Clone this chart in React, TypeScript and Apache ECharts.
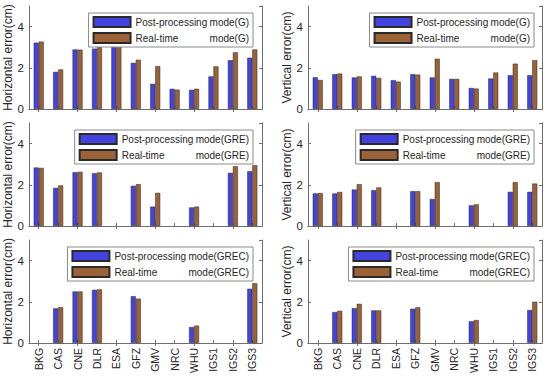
import React, { useEffect, useRef } from "react";
import * as echarts from "echarts";

const categories = ["BKG", "CAS", "CNE", "DLR", "ESA", "GFZ", "GMV", "NRC", "WHU", "IGS1", "IGS2", "IGS3"];

const hG_post = [3.22, 1.80, 2.89, 2.93, 3.07, 2.24, 1.22, 0.98, 0.93, 1.58, 2.37, 2.49];
const hG_rt = [3.27, 1.92, 2.88, 3.01, 3.14, 2.39, 2.08, 0.94, 0.98, 2.07, 2.75, 2.89];
const vG_post = [1.54, 1.69, 1.53, 1.61, 1.40, 1.69, 1.53, 1.46, 1.02, 1.48, 1.64, 1.64];
const vG_rt = [1.41, 1.72, 1.58, 1.51, 1.33, 1.67, 2.44, 1.46, 0.99, 1.77, 2.20, 2.37];
const hGRE_post = [2.84, 1.85, 2.61, 2.56, null, 1.95, 0.94, null, 0.90, null, 2.58, 2.66];
const hGRE_rt = [2.82, 1.97, 2.63, 2.60, null, 2.03, 1.61, null, 0.94, null, 2.90, 2.95];
const vGRE_post = [1.58, 1.58, 1.77, 1.74, null, 1.69, 1.31, null, 1.00, null, 1.66, 1.66];
const vGRE_rt = [1.60, 1.65, 2.03, 1.87, null, 1.69, 2.13, null, 1.05, null, 2.13, 2.06];
const hGREC_post = [null, 1.68, 2.50, 2.58, null, 2.27, null, null, 0.77, null, null, 2.63];
const hGREC_rt = [null, 1.74, 2.50, 2.60, null, 2.15, null, null, 0.84, null, null, 2.90];
const vGREC_post = [null, 1.50, 1.69, 1.58, null, 1.66, null, null, 1.05, null, null, 1.60];
const vGREC_rt = [null, 1.56, 1.90, 1.58, null, 1.73, null, null, 1.11, null, null, 2.00];

const yTicks = [0, 2, 4];
const modes = ["G", "GRE", "GREC"];
const yNames = ["Horizontal error(cm)", "Vertical error(cm)"];

const panels = [
  { mode: 0, col: 0, post: hG_post, rt: hG_rt },
  { mode: 0, col: 1, post: vG_post, rt: vG_rt },
  { mode: 1, col: 0, post: hGRE_post, rt: hGRE_rt },
  { mode: 1, col: 1, post: vGRE_post, rt: vGRE_rt },
  { mode: 2, col: 0, post: hGREC_post, rt: hGREC_rt },
  { mode: 2, col: 1, post: vGREC_post, rt: vGREC_rt },
];

const FONT = "Liberation Sans, Arial, sans-serif";
const TXT = "#262626";
const AXC = "#6e6e6e";
const BLUE = "#4343df";
const BROWN = "#9a6236";

const colLeft = [29, 308];
const colWidth = [233, 234];
const rowTop = [6, 123, 240];
const gridH = 103;
const legendRight = [297, 16];

export default function App() {
  const ref = useRef<HTMLDivElement>(null);
  useEffect(() => {
    document.body.style.margin = "0";
    const chart = echarts.init(ref.current!, null, { renderer: "svg" });
    const grid: any[] = [];
    const xAxis: any[] = [];
    const yAxis: any[] = [];
    const series: any[] = [];
    const legend: any[] = [];
    panels.forEach((p, i) => {
      const m = modes[p.mode];
      const postName = `Post-processing mode(${m})`;
      const rtName = `Real-time mode(${m})`;
      grid.push({ left: colLeft[p.col], width: colWidth[p.col], top: rowTop[p.mode], height: gridH });
      const isBottom = p.mode === 2;
      xAxis.push({
        type: "category", gridIndex: i, data: categories, position: "bottom",
        axisLine: { show: true, lineStyle: { color: AXC, width: 1 } },
        axisTick: { show: true, inside: true, length: 3, alignWithLabel: true, lineStyle: { color: AXC } },
        axisLabel: { show: isBottom, rotate: 90, margin: 5, fontSize: 10.5, fontFamily: FONT, color: TXT, interval: 0 },
      });
      xAxis.push({
        type: "category", gridIndex: i, data: categories, position: "top",
        axisLine: { show: true, lineStyle: { color: AXC, width: 1 } },
        axisTick: { show: true, inside: true, length: 3, alignWithLabel: true, lineStyle: { color: AXC } },
        axisLabel: { show: false },
      });
      yAxis.push({
        type: "value", gridIndex: i, min: 0, max: 5, interval: 2, position: "left",
        name: yNames[p.col], nameLocation: "middle", nameGap: 14,
        nameTextStyle: { fontSize: 12, fontFamily: FONT, color: TXT },
        axisLine: { show: true, lineStyle: { color: AXC, width: 1 } },
        axisTick: { show: true, inside: true, length: 3, lineStyle: { color: AXC } },
        axisLabel: {
          margin: 5, fontSize: 11.5, fontFamily: FONT, color: TXT, showMaxLabel: false,
          formatter: (v: number) => (yTicks.includes(v) ? String(v) : ""),
        },
        splitLine: { show: false },
      });
      yAxis.push({
        type: "value", gridIndex: i, min: 0, max: 5, interval: 2, position: "right",
        axisLine: { show: true, lineStyle: { color: AXC, width: 1 } },
        axisTick: { show: true, inside: true, length: 3, lineStyle: { color: AXC } },
        axisLabel: { show: false },
        splitLine: { show: false },
      });
      series.push({
        type: "bar", name: postName, xAxisIndex: 2 * i, yAxisIndex: 2 * i, data: p.post,
        barWidth: 5, barGap: "0%",
        itemStyle: { color: BLUE, borderColor: "#2a2a2a", borderWidth: 0.5 },
      });
      series.push({
        type: "bar", name: rtName, xAxisIndex: 2 * i, yAxisIndex: 2 * i, data: p.rt,
        barWidth: 5, barGap: "0%",
        itemStyle: { color: BROWN, borderColor: "#2a2a2a", borderWidth: 0.5 },
      });
      legend.push({
        data: [postName, rtName], orient: "vertical",
        right: legendRight[p.col], top: rowTop[p.mode] + 7,
        icon: "rect",
        itemWidth: 37, itemHeight: 10, itemGap: 4,
        padding: [3, 4, 3, 4],
        borderColor: "#8a8a8a", borderWidth: 1, backgroundColor: "#fff",
        selectedMode: false,
        formatter: (name: string) => {
          const idx = name.indexOf("mode(");
          const first = name.slice(0, idx).trim();
          return `{a|${first}}{b|${name.slice(idx)}}`;
        },
        textStyle: {
          fontSize: 10, fontFamily: FONT, color: TXT,
          rich: {
            a: { width: 74, fontSize: 10, fontFamily: FONT, color: TXT },
            b: { fontSize: 10, fontFamily: FONT, color: TXT },
          },
        },
      });
    });
    chart.setOption({
      animation: false,
      backgroundColor: "#fff",
      grid, xAxis, yAxis, series, legend,
    });
    return () => chart.dispose();
  }, []);
  return <div ref={ref} style={{ width: 550, height: 376 }} />;
}
